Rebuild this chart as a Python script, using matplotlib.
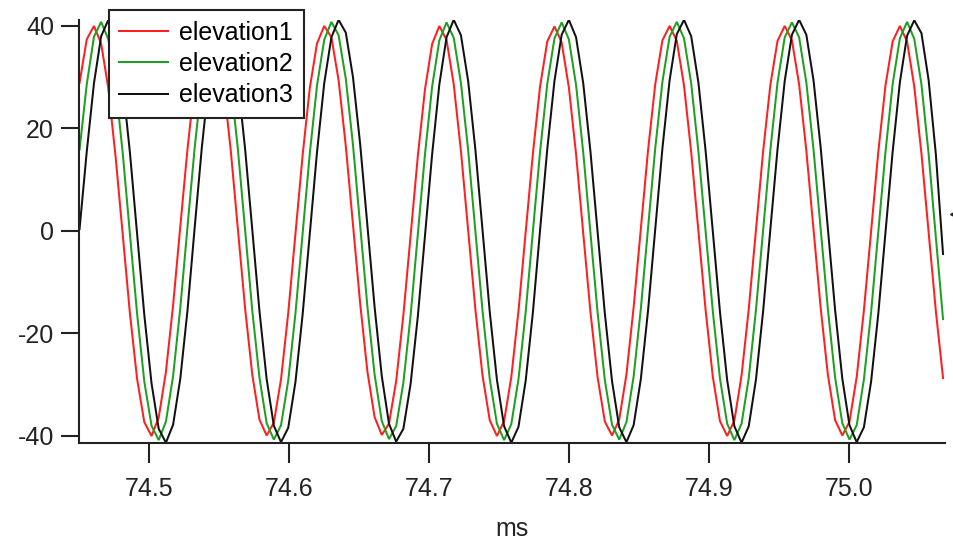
import numpy as np
import matplotlib
matplotlib.use("Agg")
import matplotlib.pyplot as plt

plt.rcParams['font.family'] = ['Liberation Sans', 'DejaVu Sans']
plt.rcParams['axes.unicode_minus'] = False

# Sampling grid of the recorded waves (start time and interval, ms)
t0_ms = 74.4504
dt_ms = 0.005140

elevation1 = [
    28.9, 37.4,
    40.0, 36.6, 27.8, 14.6, -0.7, -16.1, -28.9, -37.3, -40.0, -36.4, -27.5, -14.5, 0.9, 16.0, 28.8, 37.3,
    39.8, 37.2, 28.7, 15.9, 0.4, -15.0, -28.0, -36.8, -39.9, -37.4, -28.9, -16.0, -0.6, 14.8, 27.9, 36.6,
    40.0, 37.8, 29.4, 16.6, 1.2, -14.2, -27.4, -36.3, -39.8, -37.6, -29.3, -16.4, -1.0, 14.5, 27.6, 36.5,
    40.0, 37.3, 28.6, 15.6, 0.2, -15.2, -28.2, -36.9, -40.0, -37.1, -28.5, -15.6, -0.2, 15.1, 28.2, 37.0,
    39.9, 36.8, 28.0, 15.0, -0.5, -15.8, -28.6, -37.2, -39.9, -36.8, -28.0, -14.9, 0.4, 15.7, 28.6, 37.2,
    40.0, 37.1, 28.4, 15.4, 0.0, -15.4, -28.4, -37.1, -40.0, -37.0, -28.2, -15.2, 0.2, 15.6, 28.5, 37.1,
    40.0, 37.2, 28.6, 15.7, 0.3, -15.1, -28.1, -36.9, -39.9, -37.2, -28.5, -15.5, -0.1, 15.4, 28.4, 37.0,
    40.0, 37.0, 28.2, 15.1, -0.3, -15.6, -28.7,
]

elevation2 = [
    15.9, 28.6, 37.9,
    40.8, 37.4, 28.5, 15.2, -0.6, -16.2, -29.4, -38.0, -40.8, -37.2, -28.3, -15.0, 0.8, 16.3, 29.3, 37.9,
    40.6, 37.8, 29.1, 16.0, 0.3, -15.5, -28.6, -37.5, -40.7, -37.9, -29.2, -16.1, -0.5, 15.2, 28.4, 37.3,
    40.8, 38.2, 29.7, 16.8, 1.0, -14.7, -28.0, -37.1, -40.6, -38.1, -29.6, -16.6, -0.8, 14.9, 28.2, 37.2,
    40.7, 37.7, 28.9, 15.8, 0.1, -15.6, -28.8, -37.6, -40.8, -37.7, -28.9, -15.8, -0.1, 15.5, 28.7, 37.6,
    40.7, 37.4, 28.5, 15.3, -0.4, -16.0, -29.1, -37.8, -40.7, -37.3, -28.4, -15.2, 0.5, 16.1, 29.1, 37.9,
    40.8, 37.6, 28.8, 15.6, 0.0, -15.6, -28.8, -37.6, -40.8, -37.6, -28.7, -15.4, 0.2, 15.8, 29.0, 37.8,
    40.7, 37.8, 29.0, 15.9, 0.3, -15.3, -28.6, -37.5, -40.7, -37.9, -29.0, -15.9, -0.2, 15.4, 28.7, 37.6,
    40.8, 37.5, 28.6, 15.0, -1.2, -17.2,
]

elevation3 = [
    0.4, 15.5, 28.8, 38.0,
    41.2, 37.9, 28.7, 15.3, -0.6, -16.4, -29.7, -38.6, -41.3, -37.8, -28.8, -15.5, 0.7, 16.4, 29.6, 38.5,
    41.1, 38.3, 29.4, 16.1, 0.3, -15.6, -28.9, -38.0, -41.2, -38.4, -29.5, -16.3, -0.5, 15.4, 28.8, 37.8,
    41.2, 38.7, 30.0, 16.9, 1.1, -14.8, -28.3, -37.6, -41.1, -38.6, -29.9, -16.8, -1.0, 15.0, 28.6, 37.8,
    41.2, 38.2, 29.3, 16.0, 0.2, -15.7, -29.0, -38.1, -41.3, -38.2, -29.2, -15.9, 0.2, 16.0, 29.3, 38.3,
    41.2, 37.8, 28.8, 15.5, -0.3, -16.1, -29.3, -38.3, -41.2, -37.9, -28.9, -15.6, 0.3, 16.1, 29.4, 38.4,
    41.2, 38.0, 29.0, 15.7, 0.0, -15.8, -29.1, -38.1, -41.3, -38.1, -29.0, -15.6, 0.3, 16.0, 29.3, 38.3,
    41.2, 38.3, 29.4, 16.2, 0.4, -15.4, -28.8, -37.9, -41.2, -38.3, -29.4, -16.2, -0.3, 15.5, 29.0, 38.1,
    41.1, 38.6, 29.4, 15.0, -4.5,
]

series_names = ["elevation1", "elevation2", "elevation3"]
series_colors = ["#ff1f1f", "#1f9f1f", "#111111"]

x_ticks = [74.5, 74.6, 74.7, 74.8, 74.9, 75.0]
x_tick_labels = ["74.5", "74.6", "74.7", "74.8", "74.9", "75.0"]
y_ticks = [-40, -20, 0, 20, 40]
y_tick_labels = ["-40", "-20", "0", "20", "40"]

# Cursor mark sitting just past the right end of the x axis
cursor_t = 75.0743
cursor_v = 3.3

W, H = 954, 545
fig = plt.figure(figsize=(W / 100, H / 100), dpi=100)
ax = fig.add_axes([79 / W, 1 - 443 / H, (945 - 79) / W, (443 - 20) / H])

for vals, name, col in zip([elevation1, elevation2, elevation3], series_names, series_colors):
    t = t0_ms + dt_ms * np.arange(len(vals))
    ax.plot(t, vals, color=col, lw=1.45, label=name, solid_joinstyle='miter')

ax.plot([cursor_t], [cursor_v], marker='<', ms=4, color="#222222", clip_on=False,
        linestyle='none')

ax.set_xlim(74.45, 75.0686)
ax.set_ylim(-41.37, 41.17)

for side in ("top", "right"):
    ax.spines[side].set_visible(False)
for side in ("left", "bottom"):
    ax.spines[side].set_linewidth(1.5)
    ax.spines[side].set_color("#222222")

ax.set_xticks(x_ticks)
ax.set_xticklabels(x_tick_labels)
ax.set_yticks(y_ticks)
ax.set_yticklabels(y_tick_labels)
ax.tick_params(axis='x', direction='out', length=14.4, width=1.5, pad=10,
               labelsize=18, colors="#222222")
ax.tick_params(axis='y', direction='out', length=13, width=1.5, pad=5,
               labelsize=18, colors="#222222")

ax.set_xlabel("ms", fontsize=18, color="#222222")
ax.xaxis.set_label_coords(0.5, -0.175)

leg = ax.legend(loc='upper left', bbox_to_anchor=(109 / W, 1 - 10 / H),
                bbox_transform=fig.transFigure, borderaxespad=0,
                fontsize=18, frameon=True, fancybox=False, framealpha=1,
                edgecolor="#222222", handlelength=1.95, handletextpad=0.45,
                borderpad=0.42, labelspacing=0.3)
leg.get_frame().set_linewidth(1.5)

fig.savefig("out.png", dpi=100, facecolor="white")
